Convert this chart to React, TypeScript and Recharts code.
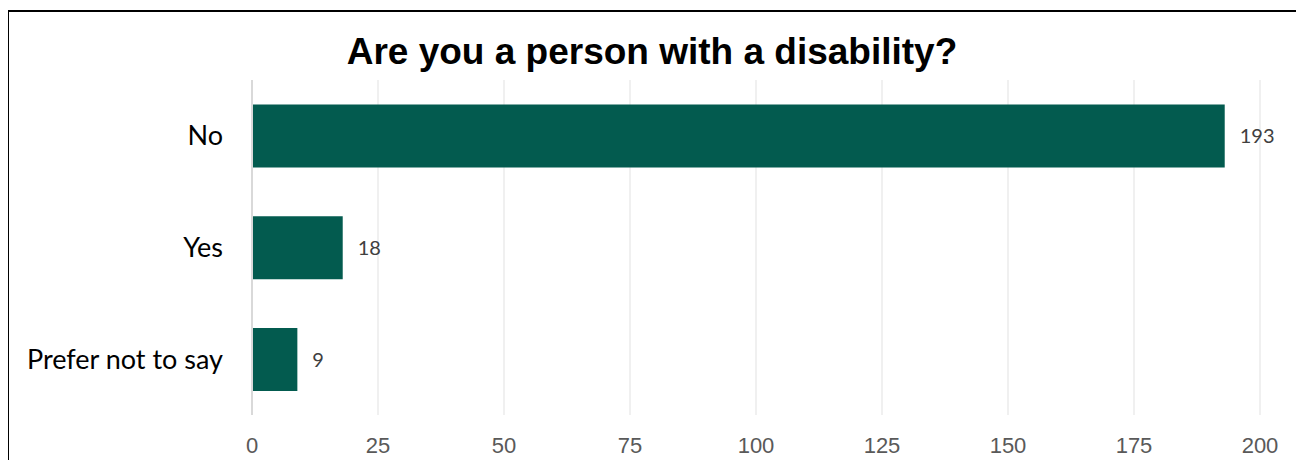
import { Bar, BarChart, CartesianGrid, LabelList, XAxis, YAxis } from "recharts";

const categories = ["No", "Yes", "Prefer not to say"];
const counts = [193, 18, 9];
const xTicks = [0, 25, 50, 75, 100, 125, 150, 175, 200];

const data = categories.map((name, i) => ({ name, value: counts[i] }));

export default function App() {
  return (
    <div style={{ position: "relative", width: 1304, height: 468, margin: -8, background: "#fff", overflow: "hidden" }}>
      <div
        style={{
          position: "absolute",
          left: 0,
          width: 1304,
          top: 30,
          textAlign: "center",
          fontFamily: "'Liberation Sans', Arial, sans-serif",
          fontWeight: 700,
          fontSize: 37,
          lineHeight: "44px",
          color: "#000",
        }}
      >
        Are you a person with a disability?
      </div>
      <div style={{ position: "absolute", left: 0, top: 0 }}>
        <BarChart
          width={1304}
          height={468}
          data={data}
          layout="vertical"
          margin={{ top: 80, right: 44, bottom: 0, left: 0 }}
          barCategoryGap="22%"
        >
          <CartesianGrid horizontal={false} stroke="#ebebeb" strokeWidth={1.5} />
          <XAxis
            type="number"
            domain={[0, 200]}
            ticks={xTicks}
            height={53}
            axisLine={false}
            tickLine={false}
            tickSize={0}
            tickMargin={22}
            tick={{ fill: "#595959", fontSize: 22, fontFamily: "'Liberation Sans', Arial, sans-serif" }}
          />
          <YAxis
            type="category"
            dataKey="name"
            width={252}
            axisLine={{ stroke: "#d9d9d9", strokeWidth: 2 }}
            tickLine={false}
            tickSize={0}
            tickMargin={29}
            tick={{ fill: "#000", fontSize: 27, fontFamily: "Lato, 'Open Sans', sans-serif" }}
          />
          <Bar dataKey="value" fill="#035B4F" isAnimationActive={false}>
            <LabelList
              dataKey="value"
              position="right"
              offset={15}
              fill="#404040"
              fontSize={20}
              fontFamily="Lato, 'Open Sans', sans-serif"
            />
          </Bar>
        </BarChart>
      </div>
      <div
        style={{
          position: "absolute",
          left: 6,
          top: 10,
          width: 3,
          height: 458,
          background: "#000",
        }}
      />
      <div
        style={{
          position: "absolute",
          left: 1299,
          top: 10,
          width: 3,
          height: 458,
          background: "#000",
        }}
      />
      <div
        style={{
          position: "absolute",
          left: 6,
          top: 10,
          width: 1296,
          height: 2,
          background: "#000",
        }}
      />
    </div>
  );
}
